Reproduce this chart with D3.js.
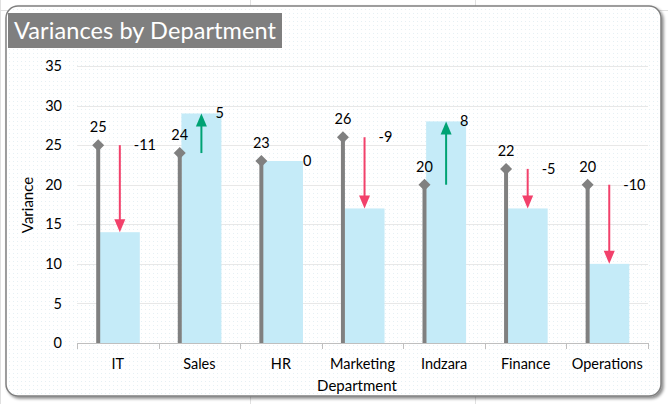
<!DOCTYPE html>
<html>
<head>
<meta charset="utf-8">
<script src="https://cdn.jsdelivr.net/npm/d3@7"></script>
<style>
	body { margin: 0; background: #fff; }
	svg text { font-family: Lato, "Open Sans", sans-serif; }
</style>
</head>
<body>
<div id="chart"></div>
<script>
var WIDTH = 668;
var HEIGHT = 404;

var categories = ['IT', 'Sales', 'HR', 'Marketing', 'Indzara', 'Finance', 'Operations'];
var previous = [25, 24, 23, 26, 20, 22, 20];
var variance = [-11, 5, 0, -9, 8, -5, -10];
var actual = [14, 29, 23, 17, 28, 17, 10];
var yTicks = [0, 5, 10, 15, 20, 25, 30, 35];

var svg = d3.select('#chart').append('svg')
	.attr('width', WIDTH)
	.attr('height', HEIGHT);

var defs = svg.append('defs');

var dots = defs.append('pattern')
	.attr('id', 'dots')
	.attr('width', 4)
	.attr('height', 4)
	.attr('patternUnits', 'userSpaceOnUse');
dots.append('rect').attr('width', 4).attr('height', 4).attr('fill', '#fff');
dots.append('rect').attr('x', 1).attr('y', 1).attr('width', 1).attr('height', 1).attr('fill', '#e6f0f4');

var shadow = defs.append('filter').attr('id', 'shadow').attr('x', '-5%').attr('y', '-5%').attr('width', '110%').attr('height', '112%');
shadow.append('feDropShadow').attr('dx', 2).attr('dy', 2).attr('stdDeviation', 1.5).attr('flood-color', '#000').attr('flood-opacity', 0.45);

// sheet grid behind the chart
[0, 250, 475].forEach(function(x) {
	svg.append('line').attr('x1', x+0.5).attr('x2', x+0.5).attr('y1', 0).attr('y2', HEIGHT).attr('stroke', '#e0e0e0');
});
[10, 404].forEach(function(y) {
	svg.append('line').attr('x1', 0).attr('x2', WIDTH).attr('y1', y+0.5).attr('y2', y+0.5).attr('stroke', '#e0e0e0');
});

svg.append('rect')
	.attr('x', 6)
	.attr('y', 6)
	.attr('width', 655)
	.attr('height', 390)
	.attr('rx', 12)
	.attr('fill', 'url(#dots)')
	.attr('stroke', '#7f7f7f')
	.attr('stroke-width', 1.5)
	.attr('filter', 'url(#shadow)');

// title
svg.append('rect')
	.attr('x', 8)
	.attr('y', 13)
	.attr('width', 274)
	.attr('height', 35)
	.attr('fill', '#7f7f7f');
svg.append('text')
	.attr('x', 14)
	.attr('y', 39)
	.attr('font-size', 23.5)
	.attr('textLength', 262)
	.attr('fill', '#fff')
	.text('Variances by Department');

var x = d3.scaleBand()
	.domain(categories)
	.range([77, 648])
	.padding(0);

var y = d3.scaleLinear()
	.domain([0, 35])
	.range([343, 66]);

var bw = x.bandwidth();

// gridlines
svg.append('g')
	.selectAll('line')
	.data(yTicks.slice(1))
	.join('line')
	.attr('x1', 77)
	.attr('x2', 648)
	.attr('y1', function(d) { return Math.round(y(d))+0.5; })
	.attr('y2', function(d) { return Math.round(y(d))+0.5; })
	.attr('stroke', '#e8e8e8')
	.attr('stroke-width', 1);

// y axis labels
var yAxis = svg.append('g')
	.attr('transform', 'translate(77,0)')
	.call(d3.axisLeft(y).tickValues(yTicks).tickSize(0).tickPadding(15));
yAxis.select('.domain').remove();
yAxis.selectAll('text').attr('font-size', 14.5).attr('fill', '#000').style('font-family', 'Lato, sans-serif');

// actual bars
svg.append('g')
	.selectAll('rect')
	.data(categories)
	.join('rect')
	.attr('x', function(d) { return x(d)+bw*0.28; })
	.attr('width', bw*0.49)
	.attr('y', function(d, i) { return y(actual[i]); })
	.attr('height', function(d, i) { return y(0)-y(actual[i]); })
	.attr('fill', '#c5ebf8');

// previous sticks
svg.append('g')
	.selectAll('line')
	.data(categories)
	.join('line')
	.attr('x1', function(d) { return x(d)+bw*0.26; })
	.attr('x2', function(d) { return x(d)+bw*0.26; })
	.attr('y1', y(0))
	.attr('y2', function(d, i) { return y(previous[i]); })
	.attr('stroke', '#808080')
	.attr('stroke-width', 4);

svg.append('g')
	.selectAll('path')
	.data(categories)
	.join('path')
	.attr('d', 'M0,-6 L6,0 L0,6 L-6,0 Z')
	.attr('transform', function(d, i) { return 'translate('+(x(d)+bw*0.26)+','+y(previous[i])+')'; })
	.attr('fill', '#808080');

svg.append('g')
	.selectAll('text')
	.data(categories)
	.join('text')
	.attr('x', function(d) { return x(d)+bw*0.26; })
	.attr('y', function(d, i) { return y(previous[i])-13; })
	.attr('text-anchor', 'middle')
	.attr('font-size', 14.5)
	.text(function(d, i) { return previous[i]; });

// variance arrows
var arrows = svg.append('g');
categories.forEach(function(c, i) {
	if (variance[i] === 0) return;
	var ax = x(c)+bw*0.525;
	var y0 = y(previous[i]);
	var y1 = y(actual[i]);
	var dir = y1 > y0 ? 1 : -1;
	var col = variance[i] < 0 ? '#f2416b' : '#00a273';
	arrows.append('line')
		.attr('x1', ax).attr('x2', ax)
		.attr('y1', y0).attr('y2', y1-dir*10)
		.attr('stroke', col)
		.attr('stroke-width', 2);
	arrows.append('path')
		.attr('d', 'M'+(ax-5.5)+','+(y1-dir*13)+' L'+(ax+5.5)+','+(y1-dir*13)+' L'+ax+','+y1+' Z')
		.attr('fill', col);
});

svg.append('g')
	.selectAll('text')
	.data(categories)
	.join('text')
	.attr('x', function(d, i) { return x(d)+bw*0.525+(variance[i] === 0 ? 20 : 14); })
	.attr('y', function(d, i) { return y(Math.max(previous[i], actual[i]))+5; })
	.attr('font-size', 14.5)
	.text(function(d, i) { return variance[i]; });

// x axis
var xAxis = svg.append('g')
	.attr('transform', 'translate(0,'+y(0)+')')
	.call(d3.axisBottom(x).tickSize(0).tickPadding(16));
xAxis.select('.domain').attr('stroke', '#bfbfbf').attr('d', 'M77,0.5H648');
xAxis.selectAll('text').attr('font-size', 14.5).attr('fill', '#000').style('font-family', 'Lato, sans-serif');

svg.append('g')
	.selectAll('line')
	.data(categories.concat(['end']))
	.join('line')
	.attr('x1', function(d, i) { return Math.round(77+i*bw)+0.5; })
	.attr('x2', function(d, i) { return Math.round(77+i*bw)+0.5; })
	.attr('y1', y(0))
	.attr('y2', y(0)+6)
	.attr('stroke', '#bfbfbf');

// axis titles
svg.append('text')
	.attr('transform', 'translate(33,205) rotate(-90)')
	.attr('text-anchor', 'middle')
	.attr('font-size', 15)
	.text('Variance');

svg.append('text')
	.attr('x', 357)
	.attr('y', 391)
	.attr('text-anchor', 'middle')
	.attr('font-size', 15)
	.text('Department');
</script>
</body>
</html>
